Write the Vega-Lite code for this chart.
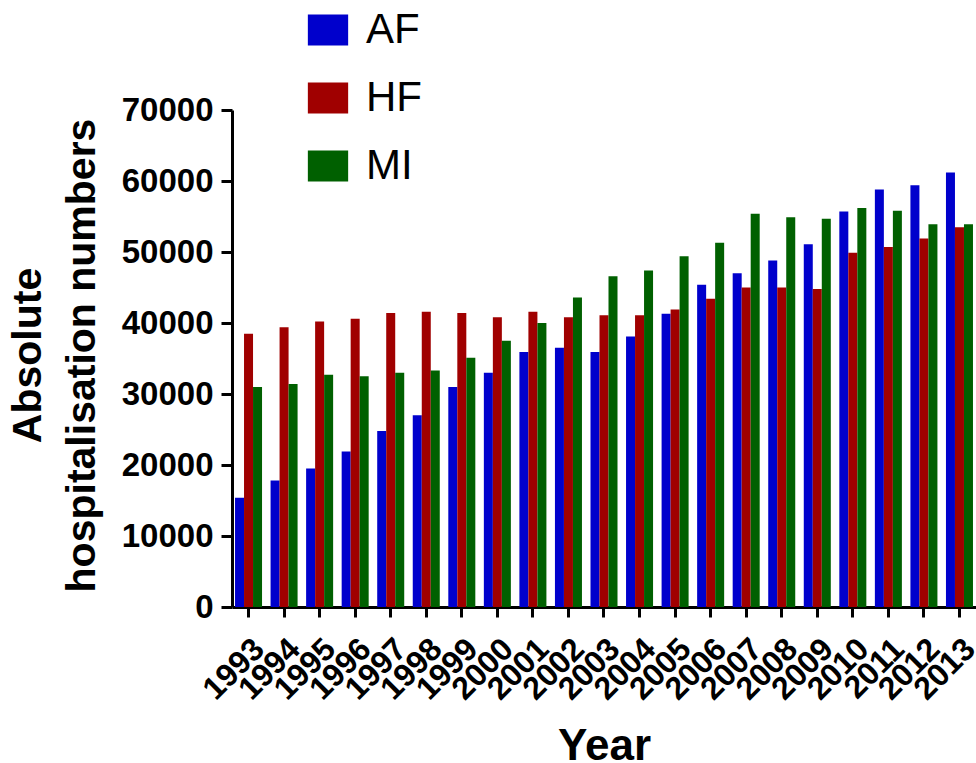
{
  "$schema": "https://vega.github.io/schema/vega-lite/v6.json",
  "autosize": {"type": "none"},
  "padding": {"left": 232, "top": 110, "right": 0, "bottom": 156},
  "width": 744,
  "height": 497,
  "background": "white",
  "config": {
    "font": "Liberation Sans",
    "view": {"stroke": null},
    "axis": {
      "grid": false,
      "domainColor": "black",
      "domainWidth": 3,
      "tickColor": "black",
      "tickWidth": 3,
      "labelColor": "black",
      "titleColor": "black",
      "labelFont": "Liberation Sans",
      "titleFont": "Liberation Sans",
      "labelFontWeight": "bold",
      "titleFontWeight": "bold"
    }
  },
  "data": {
    "values": [
      {"year": "1993", "condition": "AF", "value": 15400},
      {"year": "1993", "condition": "HF", "value": 38500},
      {"year": "1993", "condition": "MI", "value": 31000},
      {"year": "1994", "condition": "AF", "value": 17800},
      {"year": "1994", "condition": "HF", "value": 39400},
      {"year": "1994", "condition": "MI", "value": 31400},
      {"year": "1995", "condition": "AF", "value": 19500},
      {"year": "1995", "condition": "HF", "value": 40200},
      {"year": "1995", "condition": "MI", "value": 32700},
      {"year": "1996", "condition": "AF", "value": 21900},
      {"year": "1996", "condition": "HF", "value": 40600},
      {"year": "1996", "condition": "MI", "value": 32500},
      {"year": "1997", "condition": "AF", "value": 24800},
      {"year": "1997", "condition": "HF", "value": 41400},
      {"year": "1997", "condition": "MI", "value": 33000},
      {"year": "1998", "condition": "AF", "value": 27000},
      {"year": "1998", "condition": "HF", "value": 41600},
      {"year": "1998", "condition": "MI", "value": 33300},
      {"year": "1999", "condition": "AF", "value": 31000},
      {"year": "1999", "condition": "HF", "value": 41400},
      {"year": "1999", "condition": "MI", "value": 35100},
      {"year": "2000", "condition": "AF", "value": 33000},
      {"year": "2000", "condition": "HF", "value": 40800},
      {"year": "2000", "condition": "MI", "value": 37500},
      {"year": "2001", "condition": "AF", "value": 35900},
      {"year": "2001", "condition": "HF", "value": 41600},
      {"year": "2001", "condition": "MI", "value": 40000},
      {"year": "2002", "condition": "AF", "value": 36500},
      {"year": "2002", "condition": "HF", "value": 40800},
      {"year": "2002", "condition": "MI", "value": 43600},
      {"year": "2003", "condition": "AF", "value": 35900},
      {"year": "2003", "condition": "HF", "value": 41100},
      {"year": "2003", "condition": "MI", "value": 46600},
      {"year": "2004", "condition": "AF", "value": 38100},
      {"year": "2004", "condition": "HF", "value": 41100},
      {"year": "2004", "condition": "MI", "value": 47400},
      {"year": "2005", "condition": "AF", "value": 41300},
      {"year": "2005", "condition": "HF", "value": 41900},
      {"year": "2005", "condition": "MI", "value": 49400},
      {"year": "2006", "condition": "AF", "value": 45400},
      {"year": "2006", "condition": "HF", "value": 43400},
      {"year": "2006", "condition": "MI", "value": 51300},
      {"year": "2007", "condition": "AF", "value": 47000},
      {"year": "2007", "condition": "HF", "value": 45000},
      {"year": "2007", "condition": "MI", "value": 55400},
      {"year": "2008", "condition": "AF", "value": 48800},
      {"year": "2008", "condition": "HF", "value": 45000},
      {"year": "2008", "condition": "MI", "value": 54900},
      {"year": "2009", "condition": "AF", "value": 51100},
      {"year": "2009", "condition": "HF", "value": 44800},
      {"year": "2009", "condition": "MI", "value": 54700},
      {"year": "2010", "condition": "AF", "value": 55700},
      {"year": "2010", "condition": "HF", "value": 49900},
      {"year": "2010", "condition": "MI", "value": 56200},
      {"year": "2011", "condition": "AF", "value": 58800},
      {"year": "2011", "condition": "HF", "value": 50700},
      {"year": "2011", "condition": "MI", "value": 55800},
      {"year": "2012", "condition": "AF", "value": 59400},
      {"year": "2012", "condition": "HF", "value": 51900},
      {"year": "2012", "condition": "MI", "value": 53900},
      {"year": "2013", "condition": "AF", "value": 61200},
      {"year": "2013", "condition": "HF", "value": 53500},
      {"year": "2013", "condition": "MI", "value": 53900}
    ]
  },
  "mark": {"type": "bar"},
  "encoding": {
    "x": {
      "field": "year",
      "type": "ordinal",
      "scale": {"paddingInner": 0.24, "paddingOuter": 0.085},
      "axis": {
        "title": "Year",
        "titleFontSize": 44,
        "titleY": 152,
        "titleBaseline": "alphabetic",
        "labelAngle": -45,
        "labelFontSize": 32,
        "labelPadding": 16,
        "tickSize": 10
      }
    },
    "xOffset": {"field": "condition", "type": "nominal", "sort": ["AF", "HF", "MI"]},
    "y": {
      "field": "value",
      "type": "quantitative",
      "scale": {"domain": [0, 70000], "nice": false},
      "axis": {
        "values": [0, 10000, 20000, 30000, 40000, 50000, 60000, 70000],
        "format": "d",
        "labelFontSize": 33,
        "labelPadding": 8,
        "tickSize": 11,
        "title": ["Absolute", "hospitalisation numbers"],
        "titleFontSize": 41,
        "titleLineHeight": 54,
        "titleAngle": -90,
        "titleX": -224,
        "titleY": 245,
        "titleBaseline": "top",
        "titleAlign": "center"
      }
    },
    "color": {
      "field": "condition",
      "type": "nominal",
      "scale": {"domain": ["AF", "HF", "MI"], "range": ["#0000CC", "#A00000", "#006000"]},
      "legend": {
        "title": null,
        "orient": "none",
        "legendX": 75,
        "legendY": -101,
        "padding": 0,
        "symbolType": "M-1.3,-1H1.3V1H-1.3Z",
        "symbolSize": 961,
        "symbolStrokeWidth": 0,
        "symbolOpacity": 1,
        "labelFontSize": 42,
        "labelFont": "Liberation Sans",
        "labelColor": "black",
        "labelOffset": 17,
        "rowPadding": 26
      }
    }
  }
}
